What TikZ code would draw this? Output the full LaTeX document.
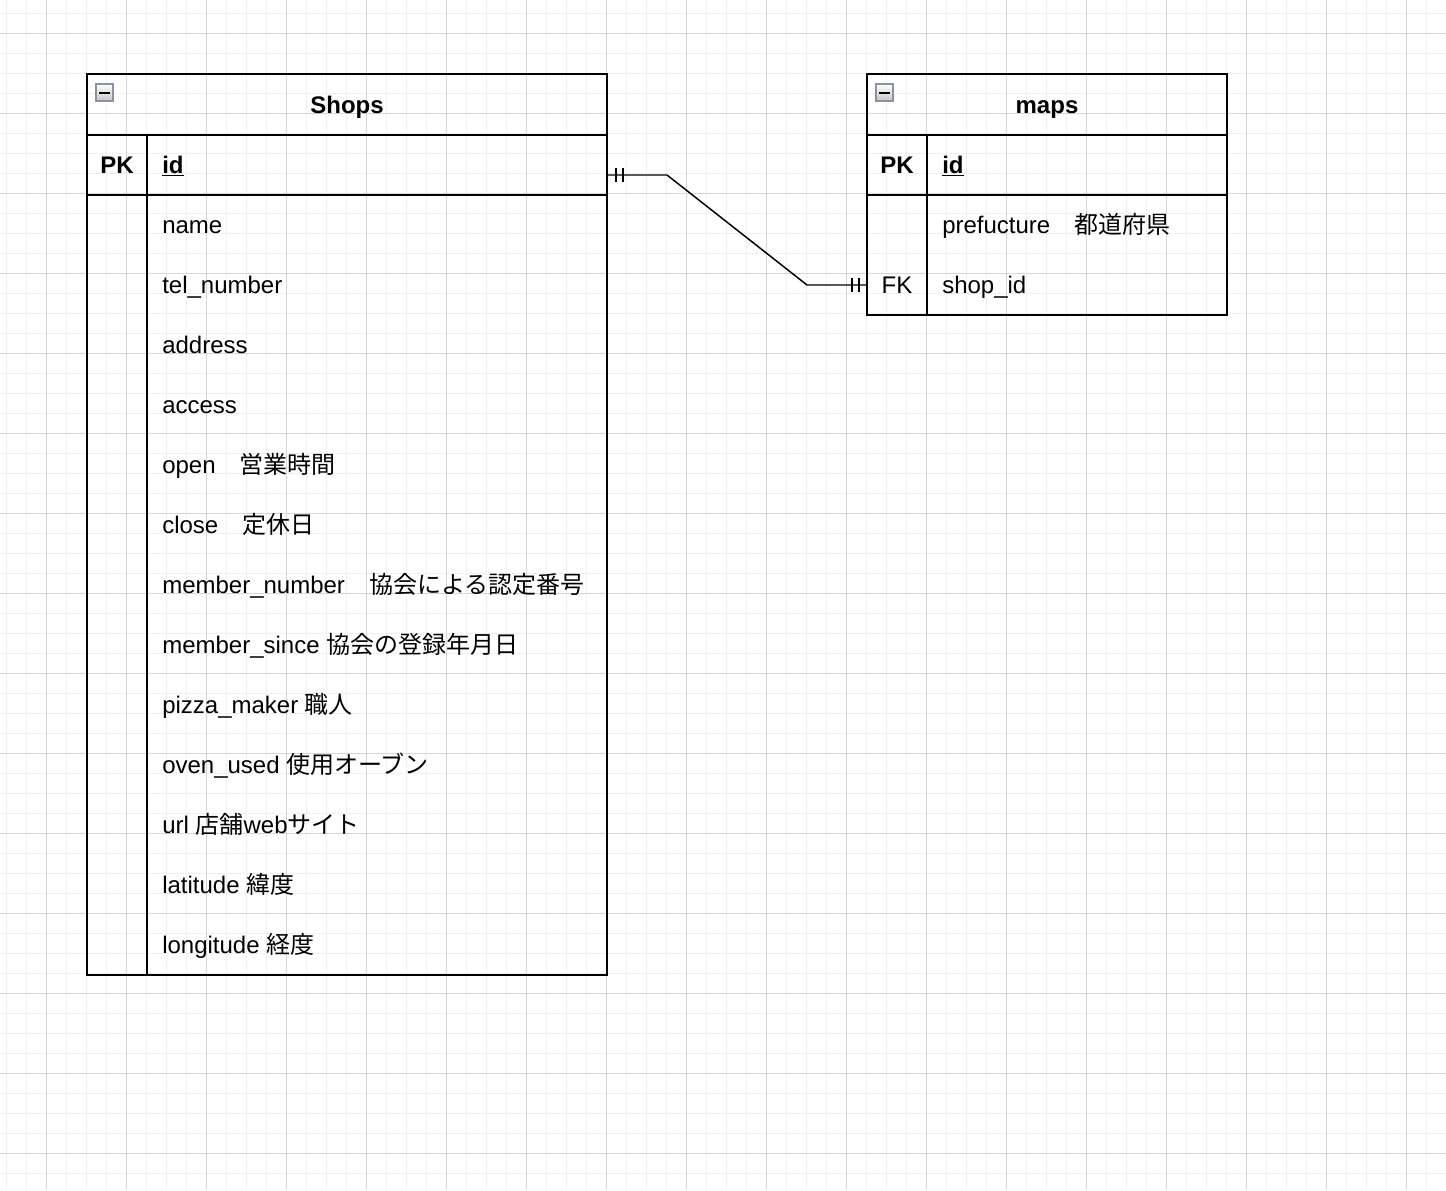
\documentclass[tikz,border=0pt]{standalone}
\usepackage{fontspec}
\setmainfont{Liberation Sans}
\newfontfamily\jp{Noto Sans CJK JP}
\usetikzlibrary{positioning}
\definecolor{gridminor}{HTML}{F0F0F0}
\definecolor{gridmajor}{HTML}{D6D6D6}
\definecolor{iconedge}{HTML}{8A93A6}
\begin{document}
\begin{tikzpicture}[x=0.75pt,y=-0.75pt,
  tbl/.style={line width=1.5pt},
  title/.style={anchor=base, inner sep=0pt, font=\bfseries\fontsize{18}{20}\selectfont},
  keycell/.style={anchor=base, inner sep=0pt, font=\fontsize{18}{20}\selectfont},
  field/.style={anchor=base west, inner sep=0pt, font=\fontsize{18}{20}\selectfont},
  icon/.style={draw=iconedge, line width=0.9pt, top color=white, bottom color=gray!45},
  rel/.style={line width=1.1pt}]
  \useasboundingbox[fill=white] (0,0) rectangle (1446,1190);
  % Grille
  \foreach \x in {6,26,...,1446} \draw[gridminor, line width=0.75pt] (\x,0) -- (\x,1190);
  \foreach \y in {13,33,...,1190} \draw[gridminor, line width=0.75pt] (0,\y) -- (1446,\y);
  \foreach \x in {46,126,...,1446} \draw[gridmajor, line width=0.75pt] (\x,0) -- (\x,1190);
  \foreach \y in {33,113,...,1190} \draw[gridmajor, line width=0.75pt] (0,\y) -- (1446,\y);
  % Table Shops
  \draw[tbl] (87,74) rectangle (607,975);
  \draw[tbl] (87,135) -- (607,135);
  \draw[tbl] (87,195) -- (607,195);
  \draw[tbl] (147,135) -- (147,975);
  \draw[icon] (96,84) rectangle (113,101);
  \draw[line width=1.5pt] (99,92.5) -- (110,92.5);
  \node[title] (shops) at (347,113) {Shops};
  \node[keycell, font=\bfseries\fontsize{18}{20}\selectfont] (shops-pk) at (117,173) {PK};
  \node[field, font=\bfseries\fontsize{18}{20}\selectfont] (shops-id) at (162,173) {\underline{id}};
  \foreach \f [count=\i] in {name, tel\_number, address, access,
      open{\jp 　営業時間}, close{\jp 　定休日},
      member\_number{\jp 　協会による認定番号},
      member\_since {\jp 協会の登録年月日},
      pizza\_maker {\jp 職人}, oven\_used {\jp 使用オーブン},
      url {\jp 店舗}web{\jp サイト}, latitude {\jp 緯度}, longitude {\jp 経度}}
    \node[field] (shops-f\i) at (162,173+60*\i) {\f};
  % Table maps
  \draw[tbl] (867,74) rectangle (1227,315);
  \draw[tbl] (867,135) -- (1227,135);
  \draw[tbl] (867,195) -- (1227,195);
  \draw[tbl] (927,135) -- (927,315);
  \draw[icon] (876,84) rectangle (893,101);
  \draw[line width=1.5pt] (879,92.5) -- (890,92.5);
  \node[title] (maps) at (1047,113) {maps};
  \node[keycell, font=\bfseries\fontsize{18}{20}\selectfont] (maps-pk) at (897,173) {PK};
  \node[field, font=\bfseries\fontsize{18}{20}\selectfont] (maps-id) at (942,173) {\underline{id}};
  \node[field] (maps-pref) at (942,233) {prefucture{\jp 　都道府県}};
  \node[keycell] (maps-fkkey) at (897,293) {FK};
  \node[field] (maps-fk) at (942,293) {shop\_id};
  % Relation
  \coordinate (shops-out) at (607,175);
  \coordinate (maps-in) at (867,285);
  \coordinate (bend1) at (667,175);
  \coordinate (bend2) at (807,285);
  \draw[rel] (shops-out) -- (bend1) -- (bend2) -- (maps-in);
  \draw[rel] (shops-out) ++(9,-7) -- ++(0,14);
  \draw[rel] (shops-out) ++(16,-7) -- ++(0,14);
  \draw[rel] (maps-in) ++(-15,-7) -- ++(0,14);
  \draw[rel] (maps-in) ++(-8,-7) -- ++(0,14);
\end{tikzpicture}
\end{document}
